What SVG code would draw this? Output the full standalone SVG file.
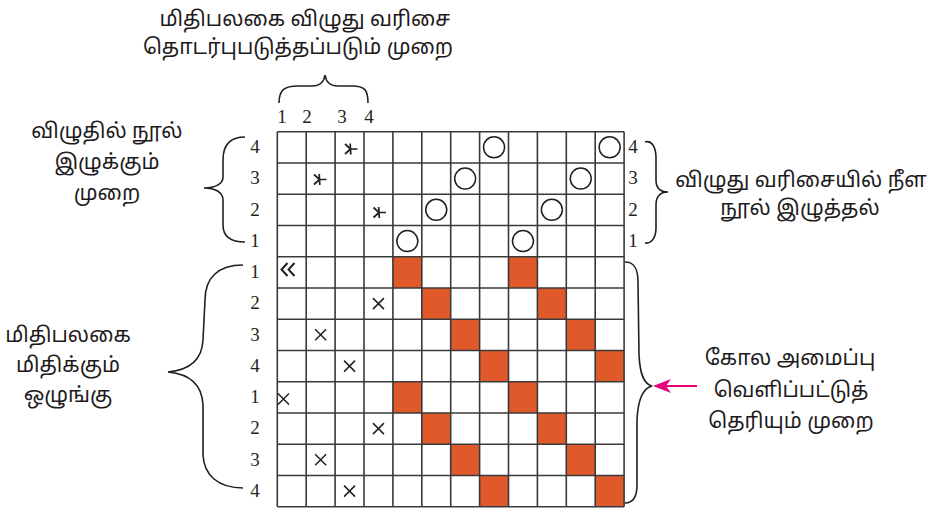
<svg xmlns="http://www.w3.org/2000/svg" width="932" height="510" viewBox="0 0 932 510">
<style>
.ta{font-family:"Noto Sans Tamil","Lohit Tamil","Noto Sans",sans-serif;font-size:21px;fill:#1e1b1c;text-anchor:middle}
.num{font-family:"Liberation Serif","Times New Roman",serif;font-size:19px;fill:#231f20;text-anchor:middle}
.grid{stroke:#3a3a3a;stroke-width:1.6;fill:none}
.or{fill:#e0592b}
.brace{fill:none;stroke:#231f20;stroke-width:1.6}
.cir{fill:none;stroke:#231f20;stroke-width:1.5}
.x{stroke:#231f20;stroke-width:1.5;fill:none}
</style>
<defs>
<path id="xm" d="M-5.5,-5.5 L5.5,5.5 M5.5,-5.5 L-5.5,5.5" class="x"/>
<path id="st" d="M0,0 L7,0 M0,0 L-5.5,-5 M0,0 L-5.5,5 M0,0 L-0.3,-5.5 M0,0 L0.3,5.5" stroke="#231f20" stroke-width="1.7" fill="none"/>
</defs>
<rect width="932" height="510" fill="#ffffff"/>

<g id="title">
<text class="ta" x="305" y="26">மிதிபலகை விழுது வரிசை</text>
<text class="ta" x="298" y="54">தொடர்புபடுத்தப்படும் முறை</text>
</g>
<g id="label-left-top">
<text class="ta" x="107" y="138">விழுதில் நூல்</text>
<text class="ta" x="107" y="169">இழுக்கும்</text>
<text class="ta" x="107" y="200">முறை</text>
</g>
<g id="label-left-bottom">
<text class="ta" x="68" y="342">மிதிபலகை</text>
<text class="ta" x="68" y="372">மிதிக்கும்</text>
<text class="ta" x="68" y="402">ஒழுங்கு</text>
</g>
<g id="label-right-top">
<text class="ta" x="801" y="187">விழுது வரிசையில் நீள</text>
<text class="ta" x="800" y="215">நூல் இழுத்தல்</text>
</g>
<g id="label-right-bottom">
<text class="ta" x="790" y="365">கோல அமைப்பு</text>
<text class="ta" x="791" y="397">வெளிப்பட்டுத்</text>
<text class="ta" x="791" y="428">தெரியும் முறை</text>
</g>

<g id="col-numbers">
<text class="num" x="282" y="123">1</text>
<text class="num" x="307" y="123">2</text>
<text class="num" x="342" y="123">3</text>
<text class="num" x="369" y="123">4</text>
</g>
<g id="row-numbers-left">
<text class="num" x="255" y="153">4</text>
<text class="num" x="255" y="184">3</text>
<text class="num" x="255" y="216">2</text>
<text class="num" x="255" y="247">1</text>
<text class="num" x="255" y="278">1</text>
<text class="num" x="255" y="309">2</text>
<text class="num" x="255" y="341">3</text>
<text class="num" x="255" y="372">4</text>
<text class="num" x="255" y="403">1</text>
<text class="num" x="255" y="434">2</text>
<text class="num" x="255" y="466">3</text>
<text class="num" x="255" y="497">4</text>
</g>
<g id="row-numbers-right">
<text class="num" x="633" y="153">4</text>
<text class="num" x="633" y="184">3</text>
<text class="num" x="633" y="216">2</text>
<text class="num" x="633" y="247">1</text>
</g>

<g id="pattern">
<rect class="or" x="392.9" y="256.7" width="28.9" height="31.25"/>
<rect class="or" x="508.5" y="256.7" width="28.9" height="31.25"/>
<rect class="or" x="421.8" y="287.95" width="28.9" height="31.25"/>
<rect class="or" x="537.4" y="287.95" width="28.9" height="31.25"/>
<rect class="or" x="450.7" y="319.2" width="28.9" height="31.25"/>
<rect class="or" x="566.3" y="319.2" width="28.9" height="31.25"/>
<rect class="or" x="479.6" y="350.45" width="28.9" height="31.25"/>
<rect class="or" x="595.2" y="350.45" width="28.9" height="31.25"/>
<rect class="or" x="392.9" y="381.7" width="28.9" height="31.25"/>
<rect class="or" x="508.5" y="381.7" width="28.9" height="31.25"/>
<rect class="or" x="421.8" y="412.95" width="28.9" height="31.25"/>
<rect class="or" x="537.4" y="412.95" width="28.9" height="31.25"/>
<rect class="or" x="450.7" y="444.2" width="28.9" height="31.25"/>
<rect class="or" x="566.3" y="444.2" width="28.9" height="31.25"/>
<rect class="or" x="479.6" y="475.45" width="28.9" height="31.25"/>
<rect class="or" x="595.2" y="475.45" width="28.9" height="31.25"/>
</g>

<g id="grid" class="grid">
<path d="M277.3,131.7V506.7 M306.2,131.7V506.7 M335.1,131.7V506.7 M364,131.7V506.7 M392.9,131.7V506.7 M421.8,131.7V506.7 M450.7,131.7V506.7 M479.6,131.7V506.7 M508.5,131.7V506.7 M537.4,131.7V506.7 M566.3,131.7V506.7 M595.2,131.7V506.7 M624.1,131.7V506.7"/>
<path d="M277.3,131.7H624.1 M277.3,162.95H624.1 M277.3,194.2H624.1 M277.3,225.45H624.1 M277.3,256.7H624.1 M277.3,287.95H624.1 M277.3,319.2H624.1 M277.3,350.45H624.1 M277.3,381.7H624.1 M277.3,412.95H624.1 M277.3,444.2H624.1 M277.3,475.45H624.1 M277.3,506.7H624.1"/>
</g>

<g id="threading">
<use href="#st" x="350.5" y="149"/>
<use href="#st" x="319.5" y="179.5"/>
<use href="#st" x="379" y="212.5"/>
<circle class="cir" cx="494.05" cy="147.3" r="10.5"/>
<circle class="cir" cx="609.65" cy="147.3" r="10.5"/>
<circle class="cir" cx="465.15" cy="178.6" r="10.5"/>
<circle class="cir" cx="580.75" cy="178.6" r="10.5"/>
<circle class="cir" cx="436.25" cy="209.8" r="10.5"/>
<circle class="cir" cx="551.85" cy="209.8" r="10.5"/>
<circle class="cir" cx="407.35" cy="241.1" r="10.5"/>
<circle class="cir" cx="522.95" cy="241.1" r="10.5"/>
</g>

<g id="treadling">
<path d="M287.5,263 L281.5,269.5 L287.5,276 M294.5,263 L288.5,269.5 L294.5,276" stroke="#231f20" stroke-width="2" fill="none"/>
<use href="#xm" x="378.45" y="303.6"/>
<use href="#xm" x="320.65" y="334.8"/>
<use href="#xm" x="349.55" y="366.1"/>
<use href="#xm" x="283.5" y="399"/>
<use href="#xm" x="378.45" y="428.6"/>
<use href="#xm" x="320.65" y="459.8"/>
<use href="#xm" x="349.55" y="491.1"/>
</g>

<g id="connectors">
<path class="brace" d="M279,103 C279,90 284,86 298,86 L312,86 C320,86 324,82 325,75 C326,82 330,86 338,86 L352,86 C365,86 368,90 368,103"/>
<path class="brace" d="M245,137 C230,137 223,145 223,160 L223,177 C223,184 215,188 204,188 C215,188 223,192 223,200 L223,225 C223,236 230,242 245,242"/>
<path class="brace" d="M645,142 C651,140 656,146 656,158 L656,180 C656,188 660,192 668,192 C660,192 656,197 656,205 L656,228 C656,238 651,244 645,243"/>
<path class="brace" d="M243,265 C218,265 205,278 205,300 L203,340 C202,360 190,370 168,372 C190,374 202,384 203,405 L203,455 C204,475 218,488 243,488"/>
<path class="brace" d="M625,262 C634,262 638,268 638,282 L639,355 C640,375 644,384 652,386 C644,388 638,398 637,420 L637,485 C637,498 632,503 625,503"/>
<line x1="697" y1="386" x2="666" y2="386" stroke="#e6007e" stroke-width="2"/>
<path d="M653,386 L671,379 L666,386 L671,393 Z" fill="#e6007e"/>
</g>
</svg>
